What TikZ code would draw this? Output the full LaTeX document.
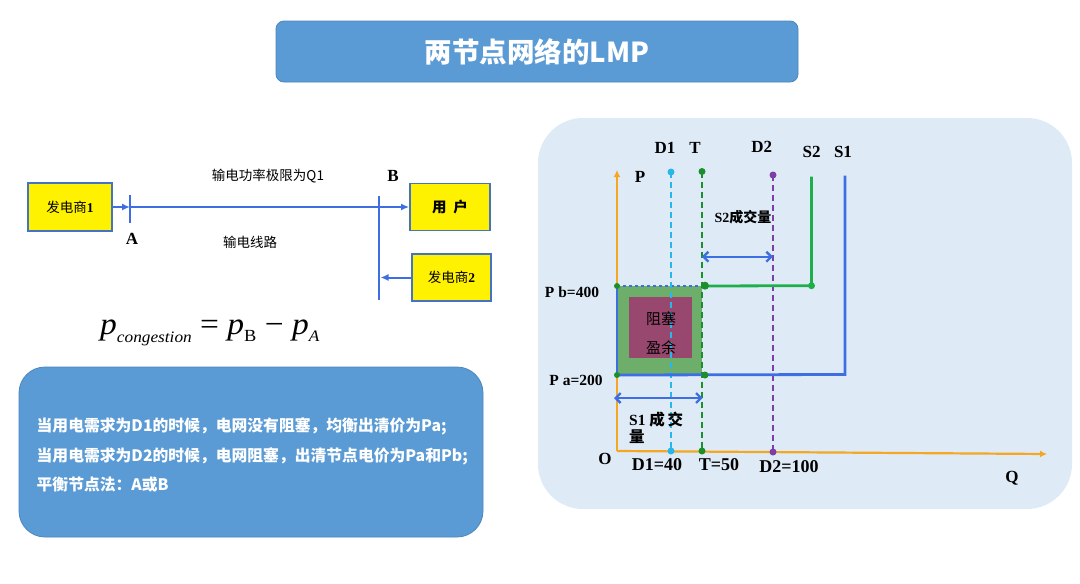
\documentclass[tikz,border=0pt]{standalone}
\usepackage{fontspec}
\setmainfont{Liberation Serif}
\newfontfamily\cjk{Noto Sans CJK SC}
\usetikzlibrary{arrows.meta}
\definecolor{titleblue}{HTML}{5B9BD5}
\definecolor{titleedge}{HTML}{4A86BF}
\definecolor{panel}{HTML}{DEEBF7}
\definecolor{boxedge}{HTML}{4472C4}
\definecolor{lnblue}{HTML}{3D6FE3}
\definecolor{axorange}{HTML}{F5A623}
\definecolor{dcyan}{HTML}{29B6E8}
\definecolor{tgreen}{HTML}{1A8F2A}
\definecolor{sgreen}{HTML}{1DB04A}
\definecolor{dpurple}{HTML}{7E3FA5}
\definecolor{sqgreen}{HTML}{6DAE6A}
\definecolor{maroon}{HTML}{98486E}
\begin{document}
\begin{tikzpicture}[x=1pt,y=-1pt,
  titlebox/.style={draw=titleedge, line width=0.8pt, fill=titleblue, rounded corners=8pt, text=white, font=\cjk\bfseries\fontsize{27.5}{32}\selectfont},
  ybox/.style={draw=boxedge, line width=1.8pt, fill=yellow, inner sep=0pt, font=\cjk\fontsize{13.5}{16}\selectfont},
  bline/.style={draw=lnblue, line width=2pt},
  tip/.style={-{Latex[length=8pt,width=7pt]}},
  dbl/.style={{Straight Barb[length=5pt,width=10pt]}-{Straight Barb[length=5pt,width=10pt]}, draw=lnblue, line width=2.4pt},
  lbl/.style={font=\bfseries\fontsize{17}{20}\selectfont, inner sep=0pt},
  vlbl/.style={font=\bfseries\fontsize{15.5}{18}\selectfont, inner sep=0pt},
  ctext/.style={font=\cjk\fontsize{13.5}{16}\selectfont, inner sep=0pt},
  wtext/.style={font=\cjk\bfseries\fontsize{15.8}{18}\selectfont, text=white, inner sep=0pt, anchor=west},
  dline/.style={line width=1.7pt, dash pattern=on 6pt off 4pt},
  dot/.style={circle, inner sep=0pt, minimum size=7pt}
]
\useasboundingbox (0,0) rectangle (1080,584);
\fill[white] (0,0) rectangle (1080,584);

% title
\node[titlebox, minimum width=522pt, minimum height=61pt] (title) at (537,51.5) {两节点网络的LMP};

% ---------- left network ----------
\node[ybox, minimum width=84pt, minimum height=48pt] (gen1) at (70,207) {发电商{\rmfamily\bfseries 1}};
\node[ybox, minimum width=80pt, minimum height=47pt] (user) at (450,207) {\bfseries\fontsize{14.5}{16}\selectfont 用\ \ 户};
\node[ybox, minimum width=79pt, minimum height=47pt] (gen2) at (451.5,277.5) {发电商{\rmfamily\bfseries 2}};

\coordinate (Atop) at (130,195);
\coordinate (Abot) at (130,223);
\coordinate (Amid) at (130,207);
\coordinate (Btop) at (379,196);
\coordinate (Bbot) at (379,300);
\coordinate (Bin) at (380.5,277.5);

\draw[bline] (Atop) -- (Abot);
\draw[bline] (Btop) -- (Bbot);
\draw[bline, tip] (gen1.east) -- (Amid);
\draw[bline, tip] (Amid) -- (user.west);
\draw[bline, tip] (gen2.west) -- (Bin);

\node[lbl] (labA) at (132,239) {A};
\node[lbl] (labB) at (393,176) {B};
\node[ctext] (limit) at (268,176) {输电功率极限为Q1};
\node[ctext] (lineL) at (250,242) {输电线路};

% formula
\node[inner sep=0pt, anchor=west] (formula) at (100,333) {\scalebox{1.08}[1]{\fontsize{31}{34}\selectfont\itshape p\raisebox{-0.28em}{\fontsize{16}{18}\selectfont congestion}\upshape\ = \itshape p\raisebox{-0.22em}{\upshape\fontsize{17}{18}\selectfont B}\upshape\ − \itshape p\raisebox{-0.22em}{\fontsize{16}{18}\selectfont A}}};

% bottom-left box
\draw[draw=titleedge, line width=0.8pt, fill=titleblue, rounded corners=26pt] (19,367) rectangle (483,537);
\node[wtext] (t1) at (36.5,426) {当用电需求为D1的时候，电网没有阻塞，均衡出清价为Pa;};
\node[wtext] (t2) at (36.5,456) {当用电需求为D2的时候，电网阻塞，出清节点电价为Pa和Pb;};
\node[wtext] (t3) at (36.5,485) {平衡节点法：A或B};

% ---------- right panel ----------
\fill[panel] (538,118) [rounded corners=45pt] rectangle (1072,509);

% key coordinates
\coordinate (O) at (617,451);
\coordinate (Ytop) at (617,170);
\coordinate (Xend) at (1047,454);
\coordinate (PbL) at (617,286);
\coordinate (PaL) at (617,375);
\coordinate (PbT) at (702,286);
\coordinate (PaT) at (702,375);
\coordinate (D1top) at (671,172);
\coordinate (D1bot) at (671,451);
\coordinate (Ttop) at (702,171.5);
\coordinate (Tbot) at (702,451);
\coordinate (D2top) at (773,175);
\coordinate (D2bot) at (773,452);
\coordinate (S2top) at (811.5,176.5);
\coordinate (S2cor) at (811.5,285.7);
\coordinate (S1top) at (845,175.5);
\coordinate (S1cor) at (845,374.5);

% square
\fill[sqgreen] (617,286) rectangle (702,375);
\fill[maroon] (629,296.7) rectangle (691.7,358);

% axes
\draw[axorange, line width=2.2pt, -{Latex[length=7pt,width=7pt]}] (O) -- (Ytop);
\draw[axorange, line width=2.2pt, -{Latex[length=7pt,width=7pt]}] (O) -- (Xend);

% blue rectangle border
\draw[lnblue, line width=2.6pt] (PbL) -- (PaL);
\draw[lnblue, line width=1.2pt, dashed] (PbL) -- (PbT);

% dashed demand lines
\draw[dcyan, dline] (D1top) -- (D1bot);
\draw[tgreen, dline] (Ttop) -- (Tbot);
\draw[dpurple, dline] (D2top) -- (D2bot);

% supply curves
\draw[sgreen, line width=2.8pt] (S2top) -- (S2cor) -- (PbT);
\draw[lnblue, line width=2.8pt] (S1top) -- (S1cor) -- (PaL);

% surplus text (on top of the lines)
\node[font=\cjk\fontsize{15}{17}\selectfont, inner sep=0pt] (zu) at (661,319) {阻塞};
\node[font=\cjk\fontsize{15}{17}\selectfont, inner sep=0pt] (ying) at (661,348) {盈余};

% dots
\node[dot, fill=dcyan] (d1a) at (D1top) {};
\node[dot, fill=dcyan] (d1b) at (D1bot) {};
\node[dot, fill=tgreen] (ta) at (Ttop) {};
\node[dot, fill=tgreen] (tb) at (Tbot) {};
\node[dot, fill=dpurple] (d2a) at (D2top) {};
\node[dot, fill=dpurple] (d2b) at (D2bot) {};
\node[dot, fill=sgreen] (s2c) at (S2cor) {};
\node[dot, fill=tgreen, minimum size=8pt] (pbt) at (705,285.7) {};
\node[dot, fill=tgreen] (pat) at (705,375) {};
\node[dot, fill=tgreen, minimum size=6pt] (pbl) at (PbL) {};
\node[dot, fill=tgreen, minimum size=6pt] (pal) at (PaL) {};

% quantity arrows
\coordinate (s2l) at (701.7,256.7);
\coordinate (s2r) at (773,256.7);
\coordinate (s1l) at (614,398);
\coordinate (s1r) at (702.7,398);
\draw[dbl] (s2l) -- (s2r);
\draw[dbl] (s1l) -- (s1r);

% labels
\node[lbl] (lD1) at (665,148) {D1};
\node[lbl] (lT) at (695,148) {T};
\node[lbl] (lD2) at (761.7,146.7) {D2};
\node[lbl] (lS2) at (811.7,152) {S2};
\node[lbl] (lS1) at (843,152) {S1};
\node[lbl] (lP) at (640,177) {P};
\node[lbl] (lQ) at (1012,478) {Q};
\node[lbl] (lO) at (605,459) {O};
\node[vlbl] (lPb) at (572,292) {P b=400};
\node[vlbl] (lPa) at (576,380) {P a=200};
\node[lbl, font=\bfseries\fontsize{18}{20}\selectfont] (lD1v) at (657,465) {D1=40};
\node[lbl, font=\bfseries\fontsize{18}{20}\selectfont] (lTv) at (719,465) {T=50};
\node[lbl, font=\bfseries\fontsize{18}{20}\selectfont] (lD2v) at (789,467) {D2=100};
\node[inner sep=0pt, font=\bfseries\fontsize{14}{17}\selectfont] (lS2q) at (743,217) {S2{\cjk 成交量}};
\node[inner sep=0pt, anchor=west, font=\bfseries\fontsize{15.5}{17}\selectfont] (lS1q) at (629,420) {S1 {\cjk 成\,交}};
\node[inner sep=0pt, anchor=west, font=\cjk\bfseries\fontsize{15.5}{17}\selectfont] (lS1q2) at (629,437) {量};
\end{tikzpicture}
\end{document}
